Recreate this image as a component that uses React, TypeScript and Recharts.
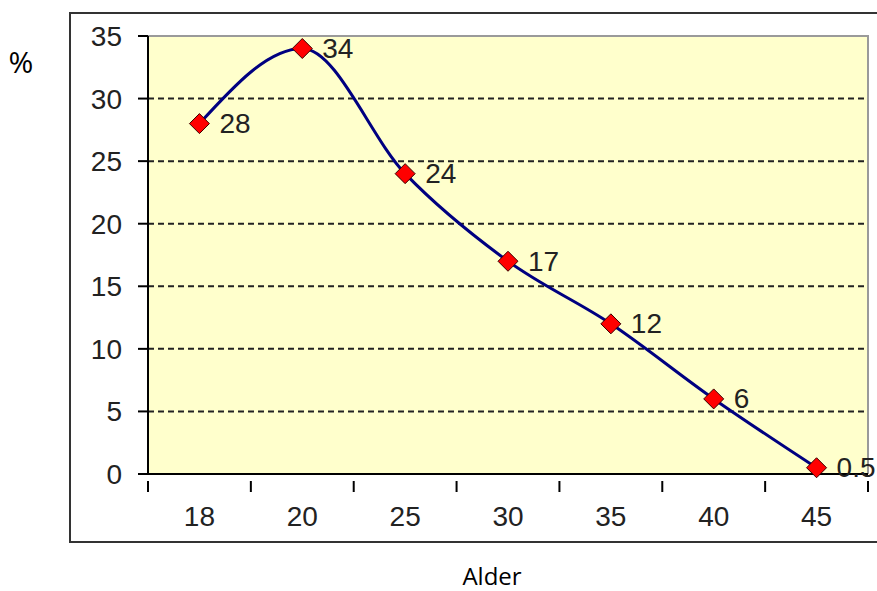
import React from "react";
import { LineChart, Line, XAxis, YAxis, CartesianGrid, LabelList } from "recharts";

const ages = ["18", "20", "25", "30", "35", "40", "45"];
const shares = [28, 34, 24, 17, 12, 6, 0.5];
const yTicks = [0, 5, 10, 15, 20, 25, 30, 35];
const gridValues = [5, 10, 15, 20, 25, 30];

const data = ages.map((age, i) => ({ age, share: shares[i] }));

const W = 877;
const H = 591;
const PLOT_LEFT = 148;
const PLOT_RIGHT = 868;
const PLOT_TOP = 36;
const PLOT_BOTTOM = 474;
const X_AXIS_H = 40;
const HALF_STEP = (PLOT_RIGHT - PLOT_LEFT) / ages.length / 2;

const tickFont = "'Liberation Sans', Arial, sans-serif";
const textColor = "#222";

function XTick(props: any) {
  const { x, y, payload, index } = props;
  const last = index === ages.length - 1;
  return (
    <g>
      <line x1={x - HALF_STEP} x2={x - HALF_STEP} y1={y - 1} y2={y + 10} stroke="#000" strokeWidth={2} />
      {last && (
        <line x1={x + HALF_STEP} x2={x + HALF_STEP} y1={y - 1} y2={y + 10} stroke="#000" strokeWidth={2} />
      )}
      <text x={x} y={526} textAnchor="middle" fill={textColor} fontSize={28} fontFamily={tickFont}>
        {payload.value}
      </text>
    </g>
  );
}

function Diamond(props: any) {
  const { cx, cy } = props;
  if (cx == null || cy == null) return null;
  const r = 10;
  return (
    <polygon
      points={`${cx},${cy - r} ${cx + r},${cy} ${cx},${cy + r} ${cx - r},${cy}`}
      fill="#FF0000"
      stroke="#3a0000"
      strokeWidth={1}
    />
  );
}

function ValueLabel(props: any) {
  const { x, y, value } = props;
  return (
    <text
      x={x + 20}
      y={y}
      dominantBaseline="central"
      fill={textColor}
      fontSize={28}
      fontFamily={tickFont}
    >
      {value}
    </text>
  );
}

export default function App() {
  return (
    <div
      style={{
        position: "absolute",
        left: 0,
        top: 0,
        width: W,
        height: H,
        overflow: "hidden",
        background: "#fff",
      }}
    >
      <div
        style={{
          position: "absolute",
          left: 69,
          top: 12,
          width: 860,
          height: 531,
          boxSizing: "border-box",
          border: "2px solid #333",
        }}
      />
      {/* plot area background with the grey top/right frame */}
      <div
        style={{
          position: "absolute",
          left: PLOT_LEFT,
          top: PLOT_TOP - 1,
          width: PLOT_RIGHT - PLOT_LEFT + 1,
          height: PLOT_BOTTOM - PLOT_TOP + 1,
          boxSizing: "border-box",
          background: "#FFFFCC",
          borderTop: "2px solid #9a9a9a",
          borderRight: "2px solid #9a9a9a",
        }}
      />
      <div style={{ position: "absolute", left: 0, top: 0 }}>
        <LineChart
          width={W}
          height={H}
          data={data}
          margin={{ top: PLOT_TOP, right: W - PLOT_RIGHT, bottom: H - PLOT_BOTTOM - X_AXIS_H, left: 0 }}
        >
          <CartesianGrid
            vertical={false}
            horizontalValues={gridValues}
            stroke="#222"
            strokeWidth={2}
            strokeDasharray="6 4"
          />
          <XAxis
            dataKey="age"
            height={X_AXIS_H}
            padding={{ left: HALF_STEP, right: HALF_STEP }}
            axisLine={{ stroke: "#000", strokeWidth: 2 }}
            tickLine={false}
            tick={<XTick />}
            interval={0}
          />
          <YAxis
            width={PLOT_LEFT}
            domain={[0, 35]}
            ticks={yTicks}
            interval={0}
            axisLine={{ stroke: "#000", strokeWidth: 2 }}
            tickLine={{ stroke: "#000", strokeWidth: 2 }}
            tickSize={10}
            tickMargin={16}
            tick={{ fill: textColor, fontSize: 28, fontFamily: tickFont }}
          />
          <Line
            type="monotone"
            dataKey="share"
            stroke="#000080"
            strokeWidth={3}
            dot={<Diamond />}
            activeDot={false}
            isAnimationActive={false}
          >
            <LabelList dataKey="share" content={<ValueLabel />} />
          </Line>
        </LineChart>
      </div>
      <svg
        width={W}
        height={H}
        style={{ position: "absolute", left: 0, top: 0, pointerEvents: "none" }}
      >
        <text x={21} y={73} textAnchor="middle" fontSize={30} fontFamily="'Open Sans', sans-serif" fill="#000">
          %
        </text>
        <text x={492} y={585} textAnchor="middle" fontSize={24} fontFamily="'Open Sans', sans-serif" fill="#000">
          Alder
        </text>
      </svg>
    </div>
  );
}
